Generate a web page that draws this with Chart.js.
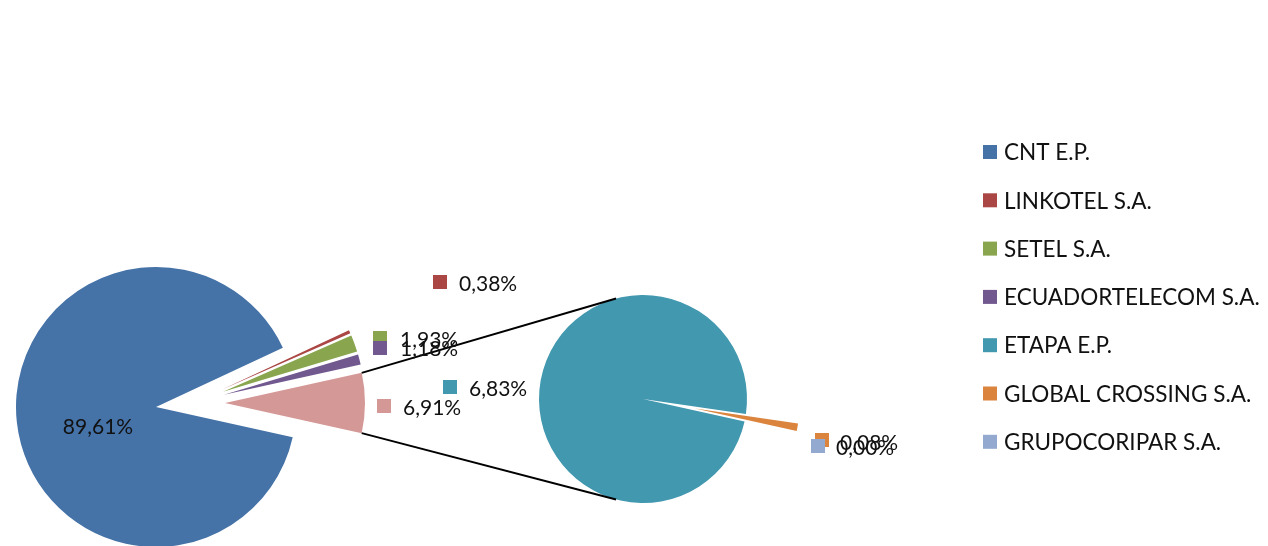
<!DOCTYPE html>
<html>
<head>
<meta charset="utf-8">
<title>Participación por operador</title>
<script src="https://cdn.jsdelivr.net/npm/chart.js@4.4.0/dist/chart.umd.min.js"></script>
<style>
  html, body { margin: 0; padding: 0; background: #fff; }
  #wrap { position: relative; width: 1268px; height: 546px; overflow: hidden; }
  #wrap canvas { position: absolute; left: 0; top: 0; }
</style>
</head>
<body>
<div id="wrap">
  <canvas id="mainPie" width="1268" height="546"></canvas>
  <canvas id="subPie" width="1268" height="546"></canvas>
</div>
<script>
// Data
const operators = ['CNT E.P.', 'LINKOTEL S.A.', 'SETEL S.A.', 'ECUADORTELECOM S.A.', 'ETAPA E.P.', 'GLOBAL CROSSING S.A.', 'GRUPOCORIPAR S.A.'];
const shares = [89.61, 0.38, 1.93, 1.18, 6.83, 0.08, 0.00];
const operatorColors = ['#4572A7', '#AA4643', '#89A54E', '#71588F', '#4198AF', '#DB843D', '#93A9CF'];
const splitCount = 3;          // last operators go to the second pie
const otherColor = '#D49896';

// split into main pie + second pie
const firstCount = operators.length - splitCount;
const subLabels = operators.slice(firstCount);
const subValues = shares.slice(firstCount);
const subColors = operatorColors.slice(firstCount);
const otherValue = Math.round(subValues.reduce((a, b) => a + b, 0) * 100) / 100;

const mainLabels = operators.slice(0, firstCount).concat('Otros');
const mainValues = shares.slice(0, firstCount).concat(otherValue);
const mainColors = operatorColors.slice(0, firstCount).concat(otherColor);

const mainTotal = mainValues.reduce((a, b) => a + b, 0);
// the "other" slice sits centred on 3 o'clock
const startDeg = 90 + (otherValue / mainTotal) * 180;

const W = 1268, H = 546;
const FONT = '"Lato", "Open Sans", sans-serif';

function pct(v) {
  return v.toFixed(2).replace('.', ',') + '%';
}

// padding that puts the pie centre at (cx, cy)
function padFor(cx, cy) {
  return {
    left: cx > W / 2 ? 2 * cx - W : 0,
    right: cx > W / 2 ? 0 : W - 2 * cx,
    top: cy > H / 2 ? 2 * cy - H : 0,
    bottom: cy > H / 2 ? 0 : H - 2 * cy
  };
}

// moves exploded slices away from the centre
const explodePlugin = {
  id: 'explode',
  afterDatasetUpdate(chart, args, opts) {
    const shift = opts.shift || [0, 0];
    const dist = opts.distances || [];
    args.meta.data.forEach((arc, i) => {
      const d = dist[i] || 0;
      if (!d) return;
      const mid = (arc.startAngle + arc.endAngle) / 2;
      arc.x += shift[0] + d * Math.cos(mid);
      arc.y += shift[1] + d * Math.sin(mid);
    });
  }
};

const mainChart = new Chart(document.getElementById('mainPie'), {
  type: 'pie',
  data: {
    labels: mainLabels,
    datasets: [{
      data: mainValues,
      backgroundColor: mainColors,
      borderWidth: 0,
      clip: false
    }]
  },
  options: {
    responsive: false,
    animation: false,
    events: [],
    rotation: startDeg,
    radius: 140,
    layout: { padding: padFor(156, 407) },
    plugins: {
      legend: { display: false },
      tooltip: { enabled: false },
      explode: { shift: [36, -4], distances: [0, 33, 33, 33, 33] }
    }
  },
  plugins: [explodePlugin]
});

// label spots: [keyX, keyY, textX, textY]  (key null = no key)
const mainSpots = [[null, null, 98, 427], [440, 282, 459, 284], [380, 338, 400, 340], [380, 348, 400, 349], [384, 406, 403, 408]];
const subSpots = [[450, 387, 469, 389], [822, 440, 840, 443], [818, 446, 836, 448]];

function drawLabels(ctx, values, colors, spots) {
  values.forEach((v, i) => {
    const s = spots[i];
    if (s[0] !== null) {
      ctx.fillStyle = colors[i];
      ctx.fillRect(s[0] - 7, s[1] - 7, 14, 14);
      ctx.textAlign = 'left';
    } else {
      ctx.textAlign = 'center';
    }
    ctx.fillStyle = '#111';
    ctx.fillText(pct(v), s[2], s[3]);
  });
}

const overlayPlugin = {
  id: 'overlay',
  afterDraw(chart) {
    const ctx = chart.ctx;
    ctx.save();

    // connector lines from the "other" slice to the second pie
    const other = mainChart.getDatasetMeta(0).data[firstCount];
    const sub = chart.getDatasetMeta(0).data[0];
    const R = other.outerRadius;
    const r = sub.outerRadius;
    const a = 105 * Math.PI / 180;
    ctx.strokeStyle = '#000';
    ctx.lineWidth = 2;
    ctx.beginPath();
    ctx.moveTo(other.x + R * Math.cos(other.startAngle), other.y + R * Math.sin(other.startAngle));
    ctx.lineTo(sub.x + r * Math.cos(-a), sub.y + r * Math.sin(-a));
    ctx.moveTo(other.x + R * Math.cos(other.endAngle), other.y + R * Math.sin(other.endAngle));
    ctx.lineTo(sub.x + r * Math.cos(a), sub.y + r * Math.sin(a));
    ctx.stroke();

    // data labels
    ctx.font = '21px ' + FONT;
    ctx.textBaseline = 'middle';
    drawLabels(ctx, mainValues, mainColors, mainSpots);
    drawLabels(ctx, subValues, subColors, subSpots);

    // legend
    ctx.font = '22.5px ' + FONT;
    ctx.textAlign = 'left';
    operators.forEach((name, i) => {
      const y = 152 + i * 48.3;
      ctx.fillStyle = operatorColors[i];
      ctx.fillRect(983, y - 7, 14, 14);
      ctx.fillStyle = '#111';
      ctx.fillText(name, 1004, y + 1);
    });
    ctx.restore();
  }
};

const subChart = new Chart(document.getElementById('subPie'), {
  type: 'pie',
  data: {
    labels: subLabels,
    datasets: [{
      data: subValues,
      backgroundColor: subColors,
      borderWidth: 0,
      clip: false
    }]
  },
  options: {
    responsive: false,
    animation: false,
    events: [],
    rotation: startDeg,
    radius: 104,
    layout: { padding: padFor(643, 399) },
    plugins: {
      legend: { display: false },
      tooltip: { enabled: false },
      explode: { distances: [0, 53, 0] }
    }
  },
  plugins: [explodePlugin, overlayPlugin]
});
</script>
</body>
</html>
